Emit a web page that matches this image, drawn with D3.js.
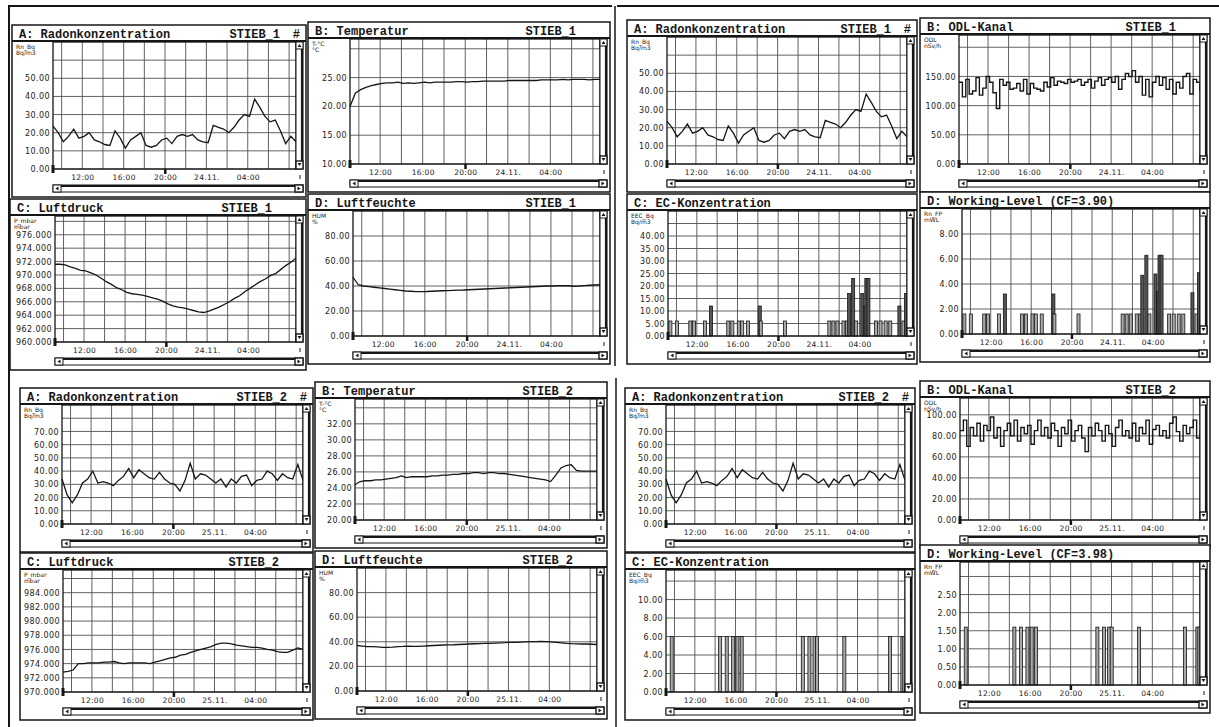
<!DOCTYPE html>
<html>
<head>
<meta charset="utf-8">
<script src="https://cdn.jsdelivr.net/npm/d3@7"></script>
<style>
body { margin: 0; background: #fff; }
</style>
</head>
<body>
<div id="chart"></div>
<script>
var W = 1219, H = 727;

// time window of every panel: 23.5 h starting 09:10 (hours since midnight of day 1)
var startHour = 9 + 10 / 60,
    spanHours = 23.5;
var xLabelHours = [12, 16, 20, 24, 28];
var xLabels1 = ["12:00", "16:00", "20:00", "24.11.", "04:00"];
var xLabels2 = ["12:00", "16:00", "20:00", "25.11.", "04:00"];

// ---- STIEB_1 (23.11. - 24.11.), 30 min steps ----
var radon1 = [23.6, 20, 15, 18, 22, 17, 18, 20, 16, 15, 13.5, 13, 21, 17, 11.5, 16, 18, 20, 13, 12,
              13, 16, 17, 14, 18, 19, 18, 19, 16, 15, 14.5, 24, 23, 22, 20, 23, 27, 30, 29, 38.5,
              34, 29, 26, 27, 21, 14, 18, 15];
var temp1 = [20.0, 22.3, 22.9, 23.3, 23.6, 23.8, 24.0, 24.1, 24.1, 24.2, 24.0, 24.1, 24.0, 24.1, 24.2, 24.1,
             24.2, 24.2, 24.2, 24.2, 24.3, 24.3, 24.2, 24.3, 24.3, 24.4, 24.4, 24.4, 24.4, 24.4, 24.5, 24.5,
             24.5, 24.5, 24.5, 24.5, 24.6, 24.6, 24.6, 24.6, 24.7, 24.6, 24.7, 24.7, 24.7, 24.6, 24.7, 24.7];
var press1 = [971.6, 971.6, 971.5, 971.2, 971.0, 970.7, 970.6, 970.3, 970.0, 969.5, 969.0, 968.6, 968.1, 967.8,
              967.4, 967.2, 967.1, 967.0, 966.8, 966.6, 966.4, 966.1, 965.7, 965.4, 965.2, 965.1, 964.9, 964.7,
              964.5, 964.4, 964.6, 964.9, 965.2, 965.6, 966.0, 966.5, 966.9, 967.5, 968.0, 968.5, 969.0, 969.4,
              969.9, 970.2, 970.8, 971.4, 971.9, 972.5];
var hum1 = [47, 41, 40, 39.5, 39, 38.5, 38, 37.5, 37, 36.5, 36, 35.8, 35.5, 35.5, 35.6, 35.8, 36, 36.2, 36.3, 36.5,
            36.7, 36.8, 37, 37.2, 37.4, 37.6, 37.8, 38, 38.2, 38.4, 38.6, 38.8, 39, 39.2, 39.4, 39.6, 39.8, 40,
            40, 40.2, 40.3, 40.2, 39.8, 40, 40.3, 40.6, 40.8, 41];
var odl1 = [140, 115, 145, 120, 125, 148, 118, 130, 150, 140, 122, 95, 145, 135, 140, 128, 130, 138, 125, 145,
            120, 138, 130, 128, 125, 140, 132, 148, 135, 142, 140, 138, 145, 140, 142, 145, 135, 140, 145, 130,
            142, 148, 135, 145, 148, 140, 150, 128, 145, 155, 150, 160, 140, 150, 118, 145, 115, 140, 150, 135,
            148, 128, 145, 120, 140, 130, 150, 155, 120, 145, 140, 125];
var ecHours1 = [9.40, 10.04, 11.36, 11.73, 12.81, 13.40, 15.09, 15.49, 16.13, 16.46, 17.04, 18.19, 18.29, 20.67,
                25.03, 25.43, 25.83, 26.42, 26.77, 26.97, 27.37, 27.67, 28.27, 28.52, 28.67, 28.87, 29.62,
                30.07, 30.57, 31.02, 31.92, 32.32, 32.57];
var ec1 = [6, 6, 6, 6, 6, 12, 6, 6, 6, 6, 6, 12, 6, 6, 6, 6, 6, 6, 6, 17, 23, 6, 17, 12, 23, 23, 6, 6, 6, 6, 12, 6, 17];
var wl1 = [1.6, 1.6, 1.6, 1.6, 1.6, 3.2, 1.6, 1.6, 1.6, 1.6, 1.6, 3.2, 1.6, 1.6, 1.6, 1.6, 1.6, 1.6, 1.6, 4.7,
           6.3, 1.6, 4.8, 3.4, 6.3, 6.3, 1.6, 1.6, 1.6, 1.6, 3.3, 1.6, 4.9];

// ---- STIEB_2 (24.11. - 25.11.) ----
var radon2 = [34, 22, 16, 22, 31, 34, 40, 31, 32, 31, 29, 33, 36, 42, 35, 41, 38, 35, 34, 39,
              34, 31, 30, 25, 33, 46, 34, 38, 37, 34, 31, 34, 28, 34, 31, 36, 37, 29, 33, 34,
              40, 38, 33, 38, 35, 34, 45, 33];
var temp2 = [24.4, 24.8, 24.9, 24.9, 25.0, 25.0, 25.1, 25.2, 25.3, 25.5, 25.3, 25.4, 25.4, 25.4, 25.4, 25.5,
             25.5, 25.6, 25.6, 25.7, 25.7, 25.8, 25.8, 25.9, 25.9, 25.8, 25.9, 25.9, 25.8, 25.8, 25.7, 25.6,
             25.5, 25.4, 25.3, 25.2, 25.1, 25.0, 24.8, 25.6, 26.5, 26.8, 26.9, 26.2, 26.1, 26.1, 26.1, 26.1];
var press2 = [972.8, 972.9, 973.1, 974.0, 974.0, 974.1, 974.1, 974.1, 974.2, 974.2, 974.3, 974.1, 974.0, 974.1,
              974.1, 974.1, 974.1, 974.0, 974.2, 974.4, 974.6, 974.8, 974.9, 975.2, 975.3, 975.6, 975.8, 976.0,
              976.2, 976.4, 976.7, 976.9, 976.9, 976.8, 976.6, 976.5, 976.4, 976.3, 976.3, 976.2, 976.0, 975.9,
              975.7, 975.6, 975.6, 975.9, 976.2, 976.0];
var hum2 = [37, 36.5, 36, 36, 35.8, 35.5, 35.5, 35.7, 36, 36.2, 36.5, 36.3, 36.2, 36.5, 36.8, 37, 37.2, 37.4,
            37.5, 37.6, 37.8, 38, 38.2, 38.4, 38.5, 38.7, 38.8, 39, 39.2, 39.3, 39.5, 39.6, 39.8, 40, 40.1,
            40.2, 40.3, 40.2, 40, 39.6, 39.2, 38.8, 38.5, 38.3, 38.2, 38.2, 38.0, 37.8];
var odl2 = [85, 95, 70, 88, 80, 92, 75, 90, 85, 98, 78, 88, 70, 85, 92, 80, 95, 75, 88, 82, 90, 72, 85, 95,
            80, 88, 78, 92, 85, 70, 88, 82, 95, 75, 85, 90, 78, 65, 88, 80, 92, 85, 75, 90, 82, 70, 88, 95,
            80, 85, 78, 92, 75, 88, 82, 95, 72, 86, 90, 80, 85, 78, 92, 98, 84, 75, 90, 82, 88, 95, 78, 85];
var ecHours2 = [9.73, 14.49, 15.14, 15.77, 16.19, 16.61, 22.62, 23.27, 23.77, 24.02, 26.70, 31.20, 32.41, 32.60];
var ec2 = [6, 6, 6, 6, 6, 6, 6, 6, 6, 6, 6, 6, 6, 6];
var wl2 = [1.6, 1.6, 1.6, 1.6, 1.6, 1.6, 1.6, 1.6, 1.6, 1.6, 1.6, 1.6, 1.6, 1.6];

// ---- y tick labels ----
var yTicksRadon1 = [0, 10, 20, 30, 40, 50];
var yTicksTemp1 = [10, 15, 20, 25];
var yTicksPress1 = [960, 962, 964, 966, 968, 970, 972, 974, 976];
var yTicksHum = [0, 20, 40, 60, 80];
var yTicksODL1 = [0, 50, 100, 150];
var yTicksEC1 = [0, 5, 10, 15, 20, 25, 30, 35, 40];
var yTicksWL1 = [0, 2, 4, 6, 8];
var yTicksRadon2 = [0, 10, 20, 30, 40, 50, 60, 70];
var yTicksTemp2 = [20, 22, 24, 26, 28, 30, 32];
var yTicksPress2 = [970, 972, 974, 976, 978, 980, 982, 984];
var yTicksODL2 = [0, 20, 40, 60, 80, 100];
var yTicksEC2 = [0, 2, 4, 6, 8, 10];
var yTicksWL2 = [0, 0.5, 1, 1.5, 2, 2.5];

var unitRadon = ["Rn_Bq", "Bq/m3"], unitTemp = ["T-\u00b0C", "\u00b0C"], unitPress = ["P_mbar", "mbar"],
    unitHum = ["HUM", "%"], unitODL = ["ODL", "nSv/h"], unitEC = ["EEC_Bq", "Bq/m3"], unitWL = ["Rn_FP", "mWL"];

var panels = [
  // top left: STIEB_1 climate
  {box: [12, 25, 294, 172], padL: 41, title: "A: Radonkonzentration", station: "STIEB_1", hash: true, unit: unitRadon,
   domain: [0, 70], ticks: yTicksRadon1, fmt: ".2f", values: radon1, kind: "line", xl: xLabels1},
  {box: [308, 22, 302, 170], padL: 42, title: "B: Temperatur", station: "STIEB_1", unit: unitTemp,
   domain: [10, 31.7], ticks: yTicksTemp1, fmt: ".2f", values: temp1, kind: "line", xl: xLabels1},
  {box: [10, 199, 296, 171], padL: 45, title: "C: Luftdruck", station: "STIEB_1", unit: unitPress,
   domain: [960, 978.8], ticks: yTicksPress1, fmt: ".3f", values: press1, kind: "line", xl: xLabels1},
  {box: [308, 194, 302, 170], padL: 45, title: "D: Luftfeuchte", station: "STIEB_1", unit: unitHum,
   domain: [0, 100], ticks: yTicksHum, fmt: ".2f", values: hum1, kind: "line", xl: xLabels1},
  // top right: STIEB_1 radiation
  {box: [627, 20, 290, 172], padL: 40, title: "A: Radonkonzentration", station: "STIEB_1", hash: true, unit: unitRadon,
   domain: [0, 70], ticks: yTicksRadon1, fmt: ".2f", values: radon1, kind: "line", xl: xLabels1},
  {box: [920, 18, 290, 174], padL: 39, title: "B: ODL-Kanal", station: "STIEB_1", unit: unitODL,
   domain: [0, 221], ticks: yTicksODL1, fmt: ".2f", values: odl1, kind: "step", xl: xLabels1},
  {box: [627, 194, 290, 170], padL: 41, title: "C: EC-Konzentration", unit: unitEC,
   domain: [0, 50], ticks: yTicksEC1, fmt: ".2f", hours: ecHours1, values: ec1, kind: "bar", xl: xLabels1},
  {box: [920, 192, 290, 170], padL: 42, title: "D: Working-Level (CF=3.90)", unit: unitWL,
   domain: [0, 10], ticks: yTicksWL1, fmt: ".2f", hours: ecHours1, values: wl1, kind: "bar", xl: xLabels1},
  // bottom left: STIEB_2 climate
  {box: [20, 388, 293, 164], padL: 42, title: "A: Radonkonzentration", station: "STIEB_2", hash: true, unit: unitRadon,
   domain: [0, 90], ticks: yTicksRadon2, fmt: ".2f", values: radon2, kind: "line", xl: xLabels2},
  {box: [315, 382, 292, 166], padL: 40, title: "B: Temperatur", station: "STIEB_2", unit: unitTemp,
   domain: [20, 35.1], ticks: yTicksTemp2, fmt: ".2f", values: temp2, kind: "line", xl: xLabels2},
  {box: [20, 553, 293, 167], padL: 43, title: "C: Luftdruck", station: "STIEB_2", unit: unitPress,
   domain: [970, 987.2], ticks: yTicksPress2, fmt: ".3f", values: press2, kind: "line", xl: xLabels2},
  {box: [315, 551, 292, 168], padL: 42, title: "D: Luftfeuchte", station: "STIEB_2", unit: unitHum,
   domain: [0, 100], ticks: yTicksHum, fmt: ".2f", values: hum2, kind: "line", xl: xLabels2},
  // bottom right: STIEB_2 radiation
  {box: [625, 388, 290, 164], padL: 41, title: "A: Radonkonzentration", station: "STIEB_2", hash: true, unit: unitRadon,
   domain: [0, 90], ticks: yTicksRadon2, fmt: ".2f", values: radon2, kind: "line", xl: xLabels2},
  {box: [920, 381, 290, 167], padL: 40, title: "B: ODL-Kanal", station: "STIEB_2", unit: unitODL,
   domain: [0, 116], ticks: yTicksODL2, fmt: ".2f", values: odl2, kind: "step", xl: xLabels2},
  {box: [625, 553, 290, 167], padL: 41, title: "C: EC-Konzentration", unit: unitEC,
   domain: [0, 13.2], ticks: yTicksEC2, fmt: ".2f", hours: ecHours2, values: ec2, kind: "bar", xl: xLabels2},
  {box: [920, 545, 290, 168], padL: 40, title: "D: Working-Level (CF=3.98)", unit: unitWL,
   domain: [0, 3.4], ticks: yTicksWL2, fmt: ".2f", hours: ecHours2, values: wl2, kind: "bar", xl: xLabels2}
];

var svg = d3.select("#chart").append("svg")
    .attr("width", W)
    .attr("height", H)
    .style("display", "block");

svg.append("rect").attr("width", W).attr("height", H).attr("fill", "#fff");

// page borders of the scanned sheets
var ink = "#161616";
svg.append("line").attr("x1", 8).attr("x2", 612).attr("y1", 6).attr("y2", 6).attr("stroke", ink).attr("stroke-width", 2);
svg.append("line").attr("x1", 617).attr("x2", 1219).attr("y1", 6).attr("y2", 6).attr("stroke", ink).attr("stroke-width", 2);
svg.append("line").attr("x1", 9).attr("x2", 9).attr("y1", 6).attr("y2", 727).attr("stroke", ink).attr("stroke-width", 2);
svg.append("line").attr("x1", 615).attr("x2", 615).attr("y1", 6).attr("y2", 366).attr("stroke", ink).attr("stroke-width", 1.5);
svg.append("line").attr("x1", 616).attr("x2", 616).attr("y1", 378).attr("y2", 727).attr("stroke", ink).attr("stroke-width", 1.5);

panels.forEach(drawPanel);

function drawPanel(p) {
    var bx = p.box[0], by = p.box[1], bw = p.box[2], bh = p.box[3];
    var pl = bx + p.padL, pr = bx + bw - 10, pt = by + 17, pb = by + bh - 28;
    var g = svg.append("g");

    var x = d3.scaleLinear().domain([startHour, startHour + spanHours]).range([pl, pr]);
    var y = d3.scaleLinear().domain(p.domain).range([pb, pt]);

    // panel frame + title bar
    g.append("rect").attr("x", bx).attr("y", by).attr("width", bw).attr("height", bh)
        .attr("fill", "#fff").attr("stroke", ink).attr("stroke-width", 1.5);
    g.append("line").attr("x1", bx).attr("x2", bx + bw).attr("y1", pt - 1).attr("y2", pt - 1)
        .attr("stroke", ink).attr("stroke-width", 2);
    g.append("text").attr("x", bx + 7).attr("y", by + 12.5)
        .attr("font-family", "Liberation Mono").attr("font-weight", "bold").attr("font-size", 12)
        .attr("fill", ink).text(p.title);
    if (p.station) {
        g.append("text").attr("x", bx + bw - (p.hash ? 26 : 34)).attr("y", by + 12.5)
            .attr("text-anchor", "end")
            .attr("font-family", "Liberation Mono").attr("font-weight", "bold").attr("font-size", 12)
            .attr("fill", ink).text(p.station);
    }
    if (p.hash) {
        g.append("text").attr("x", bx + bw - 6).attr("y", by + 12.5).attr("text-anchor", "end")
            .attr("font-family", "Liberation Mono").attr("font-weight", "bold").attr("font-size", 12)
            .attr("fill", ink).text("#");
    }

    // grid
    var step = p.ticks[1] - p.ticks[0];
    var gridY = d3.range(p.ticks[0], p.domain[1] - step * 0.3, step);
    g.selectAll(".hg").data(gridY).enter().append("line")
        .attr("x1", pl).attr("x2", pr)
        .attr("y1", function(d) { return y(d); }).attr("y2", function(d) { return y(d); })
        .attr("stroke", "#505050").attr("stroke-width", 0.9);
    var gridX = d3.range(10, startHour + spanHours, 2);
    g.selectAll(".vg").data(gridX).enter().append("line")
        .attr("x1", function(d) { return x(d); }).attr("x2", function(d) { return x(d); })
        .attr("y1", pt).attr("y2", pb)
        .attr("stroke", "#505050").attr("stroke-width", 0.9);

    // data
    if (p.kind === "bar") {
        var bwid = x(startHour + 0.3) - x(startHour);
        g.selectAll(".bar").data(p.values).enter().append("rect")
            .attr("x", function(d, i) { return x(p.hours[i]) - bwid / 2; })
            .attr("y", function(d) { return y(d); })
            .attr("width", bwid)
            .attr("height", function(d) { return pb - y(d); })
            .attr("fill", function(d) { return d > p.values[0] * 1.5 ? "#555" : "#a8a8a8"; })
            .attr("stroke", ink).attr("stroke-width", 0.8);
    } else {
        var n = p.values.length;
        var line = d3.line()
            .x(function(d, i) { return x(startHour + i * spanHours / (n - 1)); })
            .y(function(d) { return y(d); })
            .curve(p.kind === "step" ? d3.curveStepAfter : d3.curveLinear);
        g.append("path").datum(p.values).attr("d", line)
            .attr("fill", "none").attr("stroke", ink)
            .attr("stroke-width", p.kind === "step" ? 1.4 : 1.3);
    }

    // plot frame
    g.append("rect").attr("x", pl).attr("y", pt).attr("width", pr - pl).attr("height", pb - pt)
        .attr("fill", "none").attr("stroke", ink).attr("stroke-width", 1.3);

    // axes
    var fmt = d3.format(p.fmt);
    var ya = g.append("g").attr("transform", "translate(" + pl + ",0)")
        .call(d3.axisLeft(y).tickValues(p.ticks).tickFormat(fmt).tickSize(0).tickPadding(3));
    ya.select(".domain").remove();
    ya.selectAll("text").attr("font-family", "DejaVu Sans").attr("font-size", 8)
        .attr("letter-spacing", 0.4).attr("fill", "#1a1a1a");

    var xa = g.append("g").attr("transform", "translate(0," + pb + ")")
        .call(d3.axisBottom(x).tickValues(xLabelHours)
            .tickFormat(function(d, i) { return p.xl[i]; }).tickSize(0).tickPadding(6));
    xa.select(".domain").remove();
    xa.selectAll("text").attr("font-family", "DejaVu Sans").attr("font-size", 7.5)
        .attr("letter-spacing", 0.3).attr("fill", "#1a1a1a");

    // unit label
    g.append("text").attr("x", bx + 4).attr("y", pt + 7)
        .attr("font-family", "DejaVu Sans").attr("font-size", 6).attr("fill", "#222").text(p.unit[0]);
    g.append("text").attr("x", bx + 4).attr("y", pt + 13)
        .attr("font-family", "DejaVu Sans").attr("font-size", 6).attr("fill", "#222").text(p.unit[1]);

    // cursor marks
    g.append("rect").attr("x", pl - 1.5).attr("y", pb - 4).attr("width", 3).attr("height", 8).attr("fill", ink);
    g.append("rect").attr("x", x(20) - 1).attr("y", pb).attr("width", 2.5).attr("height", 5).attr("fill", ink);
    g.append("line").attr("x1", pr + 4).attr("x2", pr + 4).attr("y1", pb + 6).attr("y2", pb + 10)
        .attr("stroke", ink).attr("stroke-width", 1);

    // vertical scroll bar
    var sx = pr, sw = 7;
    g.append("rect").attr("x", sx).attr("y", pt).attr("width", sw).attr("height", pb - pt)
        .attr("fill", "#fff").attr("stroke", ink).attr("stroke-width", 1);
    g.append("line").attr("x1", sx + sw - 1).attr("x2", sx + sw - 1).attr("y1", pt + 7).attr("y2", pb - 8)
        .attr("stroke", ink).attr("stroke-width", 2.2);
    g.append("rect").attr("x", sx).attr("y", pt).attr("width", sw).attr("height", 7)
        .attr("fill", "#fff").attr("stroke", ink).attr("stroke-width", 1);
    g.append("rect").attr("x", sx).attr("y", pb - 8).attr("width", sw).attr("height", 8)
        .attr("fill", "#fff").attr("stroke", ink).attr("stroke-width", 1.4);
    g.append("path").attr("d", "M" + (sx + 1.5) + "," + (pt + 5) + "L" + (sx + 3.5) + "," + (pt + 2) + "L" + (sx + 5.5) + "," + (pt + 5) + "Z")
        .attr("fill", ink);
    g.append("path").attr("d", "M" + (sx + 1.5) + "," + (pb - 6) + "L" + (sx + 3.5) + "," + (pb - 3) + "L" + (sx + 5.5) + "," + (pb - 6) + "Z")
        .attr("fill", ink);

    // horizontal scroll bar
    var hy = pb + 16, hh = 7, hx1 = pl, hx2 = pr + sw;
    g.append("rect").attr("x", hx1).attr("y", hy).attr("width", hx2 - hx1).attr("height", hh)
        .attr("fill", "#fff").attr("stroke", ink).attr("stroke-width", 1);
    g.append("line").attr("x1", hx1 + 8).attr("x2", hx2 - 8).attr("y1", hy + 1).attr("y2", hy + 1)
        .attr("stroke", ink).attr("stroke-width", 2.2);
    g.append("rect").attr("x", hx1).attr("y", hy).attr("width", 8).attr("height", hh)
        .attr("fill", "#fff").attr("stroke", ink).attr("stroke-width", 1);
    g.append("rect").attr("x", hx2 - 8).attr("y", hy).attr("width", 8).attr("height", hh)
        .attr("fill", "#fff").attr("stroke", ink).attr("stroke-width", 1.4);
    g.append("path").attr("d", "M" + (hx1 + 5.5) + "," + (hy + 1.5) + "L" + (hx1 + 2.5) + "," + (hy + 3.5) + "L" + (hx1 + 5.5) + "," + (hy + 5.5) + "Z")
        .attr("fill", ink);
    g.append("path").attr("d", "M" + (hx2 - 5.5) + "," + (hy + 1.5) + "L" + (hx2 - 2.5) + "," + (hy + 3.5) + "L" + (hx2 - 5.5) + "," + (hy + 5.5) + "Z")
        .attr("fill", ink);
}
</script>
</body>
</html>
